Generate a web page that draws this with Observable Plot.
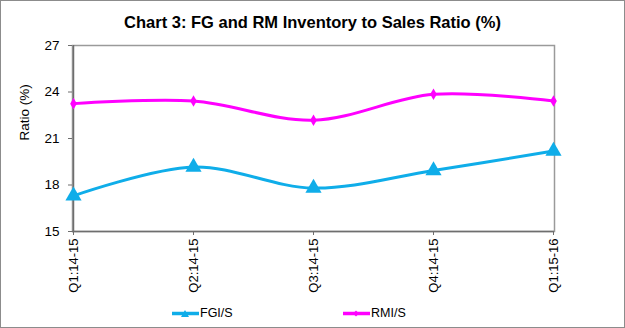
<!DOCTYPE html>
<html>
<head>
<meta charset="utf-8">
<script src="https://cdn.jsdelivr.net/npm/d3@7"></script>
<script src="https://cdn.jsdelivr.net/npm/@observablehq/plot@0.6"></script>
<style>
  body { margin: 0; background: #fff; font-family: "Liberation Sans", Arial, sans-serif; }
  #wrap { position: relative; width: 625px; height: 328px; box-sizing: border-box; border: 1px solid #8c8c8c; background: #fff; overflow: hidden; }
  #title { position: absolute; top: 12px; left: 0; width: 100%; text-align: center; font-weight: bold; font-size: 16.5px; color: #000; }
  #chart { position: absolute; top: 35px; left: 0; }
  #legend { position: absolute; top: 305px; left: 0; width: 100%; font-size: 12.5px; color: #000; }
  .item { position: absolute; display: flex; align-items: center; }
  .item svg { margin-right: 1px; }
</style>
</head>
<body>
<div id="wrap">
  <div id="title">Chart 3: FG and RM Inventory to Sales Ratio (%)</div>
  <div id="chart"></div>
  <div id="legend"></div>
</div>
<script>
const quarters = ["Q1:14-15", "Q2:14-15", "Q3:14-15", "Q4:14-15", "Q1:15-16"];
const fgiS = [17.3, 19.16, 17.8, 18.93, 20.19];
const rmiS = [23.25, 23.42, 22.18, 23.85, 23.42];
const yTicks = [15, 18, 21, 24, 27];
const seriesNames = ["FGI/S", "RMI/S"];
const seriesColors = ["#0FADE9", "#FF00FF"];

const fgiData = quarters.map((q, i) => ({q, v: fgiS[i]}));
const rmiData = quarters.map((q, i) => ({q, v: rmiS[i]}));

const plot = Plot.plot({
  width: 623,
  height: 266,
  marginLeft: 71,
  marginRight: 70,
  marginTop: 9,
  marginBottom: 71,
  style: {fontFamily: "'Liberation Sans', Arial, sans-serif", fontSize: "13px", color: "#000", background: "transparent"},
  x: {type: "point", domain: quarters, padding: 0, label: null},
  y: {domain: [15, 27], ticks: yTicks, label: null},
  marks: [
    Plot.frame({stroke: "#9a9a9a", strokeWidth: 1.5}),
    Plot.ruleY([15], {stroke: "#6e6e6e", strokeWidth: 1.5}),
    Plot.ruleX([quarters[0]], {stroke: "#6e6e6e", strokeWidth: 1.5}),
    Plot.axisY({ticks: yTicks, tickSize: 4, tickPadding: 9, stroke: "#6e6e6e", label: null, fontSize: 13.5}),
    Plot.axisX({tickSize: 4, tickPadding: 3, tickRotate: -90, stroke: "#6e6e6e", label: null, fontSize: 13}),
    Plot.text(["Ratio (%)"], {frameAnchor: "left", dx: -48, dy: 2, rotate: -90, fontSize: 13.5, fill: "#000"}),
    Plot.line(rmiData, {x: "q", y: "v", stroke: seriesColors[1], strokeWidth: 3, curve: "catmull-rom"}),
    Plot.dot(rmiData, {x: "q", y: "v", fill: seriesColors[1], symbol: "diamond", r: 3.5}),
    Plot.line(fgiData, {x: "q", y: "v", stroke: seriesColors[0], strokeWidth: 3, curve: "catmull-rom"}),
    Plot.dot(fgiData, {x: "q", y: "v", fill: seriesColors[0], symbol: "triangle", r: 6})
  ]
});
document.getElementById("chart").appendChild(plot);

// legend
const legend = document.getElementById("legend");
const positions = [171, 342];
const symbols = ["tri", "dia"];
seriesNames.forEach((name, i) => {
  const item = document.createElement("div");
  item.className = "item";
  item.style.left = positions[i] + "px";
  const c = seriesColors[i];
  const marker = symbols[i] === "tri"
    ? `<path d="M13,2 L17,9 L9,9 Z" fill="${c}"/>`
    : `<path d="M13,2.5 L16,5.5 L13,8.5 L10,5.5 Z" fill="${c}"/>`;
  item.innerHTML = `<svg width="27" height="11"><line x1="0" y1="5.5" x2="27" y2="5.5" stroke="${c}" stroke-width="3.5"/>${marker}</svg><span>${name}</span>`;
  legend.appendChild(item);
});
</script>
</body>
</html>
